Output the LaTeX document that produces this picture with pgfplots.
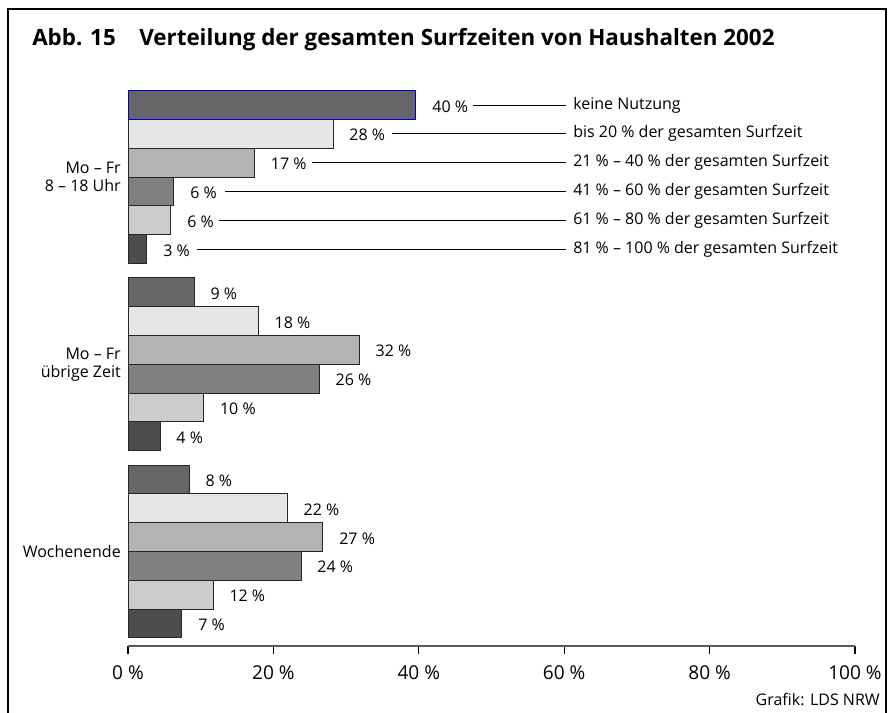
\documentclass[border=0pt]{standalone}
\usepackage{pgfplots}
\pgfplotsset{compat=1.18}
\usepackage{fontspec}
\setmainfont{Open Sans}

\definecolor{gA}{HTML}{666666}
\definecolor{gB}{HTML}{E6E6E6}
\definecolor{gC}{HTML}{B3B3B3}
\definecolor{gD}{HTML}{808080}
\definecolor{gE}{HTML}{CCCCCC}
\definecolor{gF}{HTML}{4D4D4D}

\tikzset{
  lbl/.style={font=\fontsize{12}{13.5}\selectfont, inner sep=0pt},
  lead/.style={draw=black, line width=0.7pt},
}

\begin{document}
% picture coordinates are pixels of the 892x713 reference
\begin{tikzpicture}[x=0.75pt, y=-0.75pt]
\coordinate (axSW) at (128,645.7);
\begin{axis}[
  at={(axSW)}, anchor=south west,
  x=5.4525pt, y=21.6pt,
  xmin=0, xmax=100, ymin=-18.77, ymax=0.5,
  hide y axis,
  axis x line*=bottom,
  x axis line style={draw=black!65, line width=1.5pt, -},
  xtick={0,20,40,60,80,100},
  xticklabels={0 \%,20 \%,40 \%,60 \%,80 \%,100 \%},
  xtick style={draw=black, line width=1pt},
  tick align=outside, major tick length=6.5pt,
  xticklabel style={font=\fontsize{14.3}{16}\selectfont, yshift=-5pt},
  ytick=\empty,
  xbar, bar width=21.6pt,
  clip=false,
  point meta=explicit,
  /pgf/number format/assume math mode=true,
  nodes near coords={\pgfmathprintnumber{\pgfplotspointmeta} \%},
  every node near coord/.append style={lbl, anchor=west, xshift=12pt, yshift=-1pt},
]
% bar order per group: keine Nutzung, bis 20, 21-40, 41-60, 61-80, 81-100
\addplot[bar shift=0pt, fill=gA, draw=black!85, line width=0.7pt]
  coordinates {(39.6,0) [40] (9.1,-6.5) [9] (8.4,-13) [8]};
\addplot[bar shift=0pt, fill=gB, draw=black!85, line width=0.7pt]
  coordinates {(28.2,-1) [28] (17.9,-7.5) [18] (21.9,-14) [22]};
\addplot[bar shift=0pt, fill=gC, draw=black!85, line width=0.7pt]
  coordinates {(17.4,-2) [17] (31.8,-8.5) [32] (26.8,-15) [27]};
\addplot[bar shift=0pt, fill=gD, draw=black!85, line width=0.7pt]
  coordinates {(6.3,-3) [6] (26.3,-9.5) [26] (23.8,-16) [24]};
\addplot[bar shift=0pt, fill=gE, draw=black!85, line width=0.7pt]
  coordinates {(5.9,-4) [6] (10.4,-10.5) [10] (11.7,-17) [12]};
\addplot[bar shift=0pt, fill=gF, draw=black!85, line width=0.7pt]
  coordinates {(2.6,-5) [3] (4.4,-11.5) [4] (7.4,-18) [7]};
% blue selection outline on the first bar
\addplot[bar shift=0pt, fill=none, draw=blue!80!black, line width=0.7pt,
  nodes near coords={}, forget plot]
  coordinates {(39.6,0) [40]};
\end{axis}

% leader lines and category names of the first group
\draw[lead] (473,105) -- (566,105);
\draw[lead] (392,133.8) -- (566,133.8);
\draw[lead] (312,162.6) -- (566,162.6);
\draw[lead] (225,191.4) -- (566,191.4);
\draw[lead] (219,220.2) -- (566,220.2);
\draw[lead] (197,249) -- (566,249);
\node[lbl, anchor=west] at (573,105) {keine Nutzung};
\node[lbl, anchor=west] at (573,133.8) {bis 20 \% der gesamten Surfzeit};
\node[lbl, anchor=west] at (573,162.6) {21 \% – 40 \% der gesamten Surfzeit};
\node[lbl, anchor=west] at (573,191.4) {41 \% – 60 \% der gesamten Surfzeit};
\node[lbl, anchor=west] at (573,220.2) {61 \% – 80 \% der gesamten Surfzeit};
\node[lbl, anchor=west] at (573,249) {81 \% – 100 \% der gesamten Surfzeit};

% group names
\node[lbl, anchor=east, align=right] at (121,177) {Mo – Fr\\8 – 18 Uhr};
\node[lbl, anchor=east, align=right] at (121,364.5) {Mo – Fr\\übrige Zeit};
\node[lbl, anchor=east] at (121,551.7) {Wochenende};

% title, source, frame
\node[anchor=base west, inner sep=0pt, font=\fontsize{16.8}{18}\selectfont\bfseries] at (32,46) {Abb. 15};
\node[anchor=base west, inner sep=0pt, font=\fontsize{16.8}{18}\selectfont\bfseries] at (139,46) {Verteilung der gesamten Surfzeiten von Haushalten 2002};
\node[lbl, anchor=base east] at (880,705) {Grafik: LDS NRW};
\draw[line width=2.2pt] (8,713) -- (8,9) -- (886,9) -- (886,713);

\pgfresetboundingbox
\path (0,0) rectangle (892,713);
\end{tikzpicture}
\end{document}
